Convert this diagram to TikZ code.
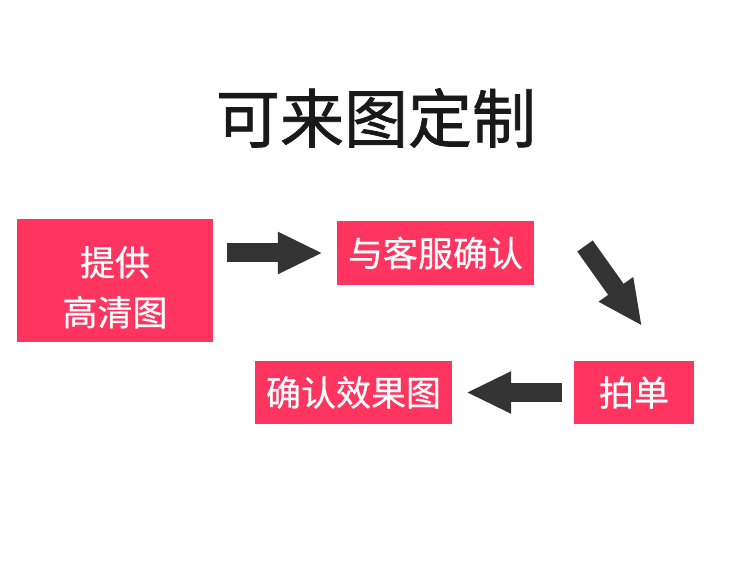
\documentclass[tikz,border=0pt]{standalone}
\usepackage{xcolor}
\usepackage{fontspec}
\usepackage{tikz}
\usetikzlibrary{arrows.meta}
\newfontfamily\cjk[FakeBold=0.6]{Noto Sans CJK SC}
\newfontfamily\cjkcu[FakeBold=1.1]{Noto Sans CJK SC}
\definecolor{hong}{RGB}{255,53,96}
\definecolor{hei}{RGB}{51,51,51}

\begin{document}
\begin{tikzpicture}[x=1pt,y=-1pt,
  kuang/.style={fill=hong,text=white,inner sep=0pt,align=center,font=\cjk\fontsize{35}{50}\selectfont},
  jiantou/.style={draw=hei,line width=19pt,-{Triangle[length=45pt,width=39pt]}}]
\useasboundingbox (0,0) rectangle (750,561);
%标题
\node[text=black!90] (biaoti) at (376,118) {\cjkcu\fontsize{64}{64}\selectfont 可来图定制};
%方框
\node[kuang,minimum width=196pt,minimum height=123pt] (tigong) at (115,280.5) {\rule{0pt}{43pt}提供\\高清图};
\node[kuang,minimum width=197pt,minimum height=64pt] (kefu) at (435.5,253) {与客服确认};
\node[kuang,minimum width=120pt,minimum height=63pt] (paidan) at (634,392.5) {拍单};
\node[kuang,minimum width=197pt,minimum height=63pt] (xiaoguo) at (353.5,392.5) {确认效果图};
%箭头
\coordinate (xie1) at (585,246);
\coordinate (xie2) at (642,326);
\draw[jiantou,shorten <=14pt,shorten >=14pt] (tigong.east |- kefu.west) -- (kefu.west);
\draw[jiantou] (xie1) -- (xie2);
\draw[jiantou,shorten <=12pt,shorten >=14pt] (paidan.west) -- (xiaoguo.east);
\end{tikzpicture}
\end{document}
